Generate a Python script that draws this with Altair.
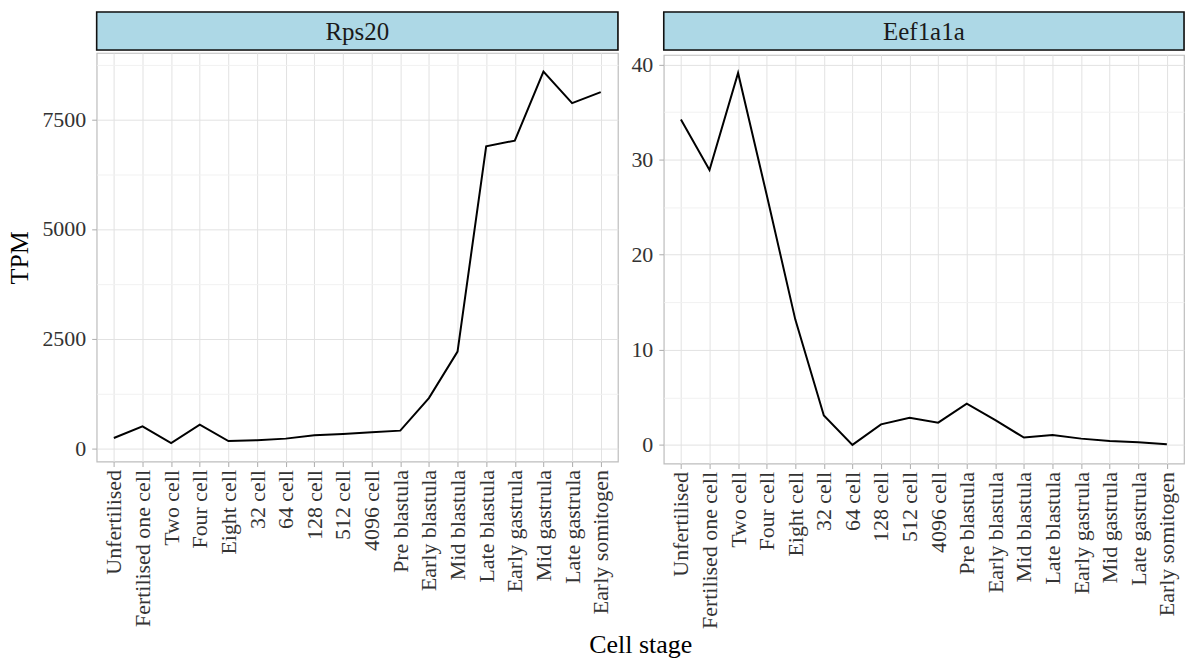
import altair as alt
import pandas as pd

stages = ["Unfertilised", "Fertilised one cell", "Two cell", "Four cell", "Eight cell",
          "32 cell", "64 cell", "128 cell", "512 cell", "4096 cell", "Pre blastula",
          "Early blastula", "Mid blastula", "Late blastula", "Early gastrula",
          "Mid gastrula", "Late gastrula", "Early somitogen"]
rps20 = [234, 500, 120, 538, 166, 182, 220, 295, 325, 364, 402,
         1143, 2205, 6886, 7015, 8591, 7871, 8121]
eef1a1a = [34.2, 28.9, 39.1, 26.3, 13.2, 3.1, 0.0, 2.16, 2.86, 2.34, 4.33,
           2.6, 0.77, 1.05, 0.66, 0.42, 0.27, 0.07]

genes = ["Rps20", "Eef1a1a"]
y_domains = [[-303, 9015], [-1.96, 41.0]]
major_step = [2500, 10]
major_vals = [[0, 2500, 5000, 7500], [0, 10, 20, 30, 40]]
minor_vals = [[1250, 3750, 6250, 8750], [5, 15, 25, 35]]

FONT = "Liberation Serif"
W = [523, 522]
PH = 410
SH = 38


def panel(i, values, show_ytitle):
    gene = genes[i]
    strip_df = pd.DataFrame({"gene": [gene]})
    rect = alt.Chart(strip_df).mark_rect(fill="#ADD8E6", stroke="#111111", strokeWidth=1.6).encode(
        x=alt.value(0), x2=alt.value(W[i]), y=alt.value(0), y2=alt.value(SH))
    txt = alt.Chart(strip_df).mark_text(font=FONT, fontSize=25, color="#1a1a1a", baseline="middle").encode(
        x=alt.value(W[i] / 2), y=alt.value(SH / 2 + 1), text="gene:N")
    strip = (rect + txt).properties(width=W[i], height=SH)

    df = pd.DataFrame({"stage": stages, "tpm": values})
    step = major_step[i]
    test = f"abs(datum.value % {step}) < 1e-9"
    yaxis = alt.Axis(
        values=sorted(major_vals[i] + minor_vals[i]),
        format="d",
        labelExpr=f"{test} ? datum.label : ''",
        gridColor={"condition": {"test": test, "value": "#e2e2e2"}, "value": "#f1f1f1"},
        tickOpacity={"condition": {"test": test, "value": 1}, "value": 0},
        title="TPM" if show_ytitle else None,
        domain=False,
        labelPadding=6,
        titlePadding=9,
    )
    line = alt.Chart(df).mark_line(color="black", strokeWidth=2).encode(
        x=alt.X("stage:N", sort=stages, scale=alt.Scale(padding=0.6),
                axis=alt.Axis(title=None, labelAngle=-90, labelAlign="right",
                              labelBaseline="middle", domain=False, gridColor="#e2e2e2",
                              labelPadding=3, labelFontSize=22)),
        y=alt.Y("tpm:Q", scale=alt.Scale(domain=y_domains[i], nice=False, zero=False), axis=yaxis),
    ).properties(width=W[i], height=PH)
    return alt.vconcat(strip, line, spacing=0)


chart = alt.hconcat(panel(0, rps20, True), panel(1, eef1a1a, False), spacing=10).properties(
    padding={"left": 6, "top": 9, "right": 1, "bottom": 1},
    title=alt.TitleParams("Cell stage", orient="bottom", anchor="middle", fontSize=26, font=FONT,
                          fontWeight="normal", color="black", offset=3, dx=45),
).configure_view(stroke="#bdbdbd", strokeWidth=1.2).configure_axis(
    labelFont=FONT, labelFontSize=22, labelColor="#333333",
    titleFont=FONT, titleFontSize=26, titleFontWeight="normal", titleColor="black",
    tickColor="#b3b3b3", tickSize=5, tickWidth=1.1,
    grid=True, gridWidth=1,
)

chart.save("out.html", embed_options={"renderer": "svg", "actions": False})
